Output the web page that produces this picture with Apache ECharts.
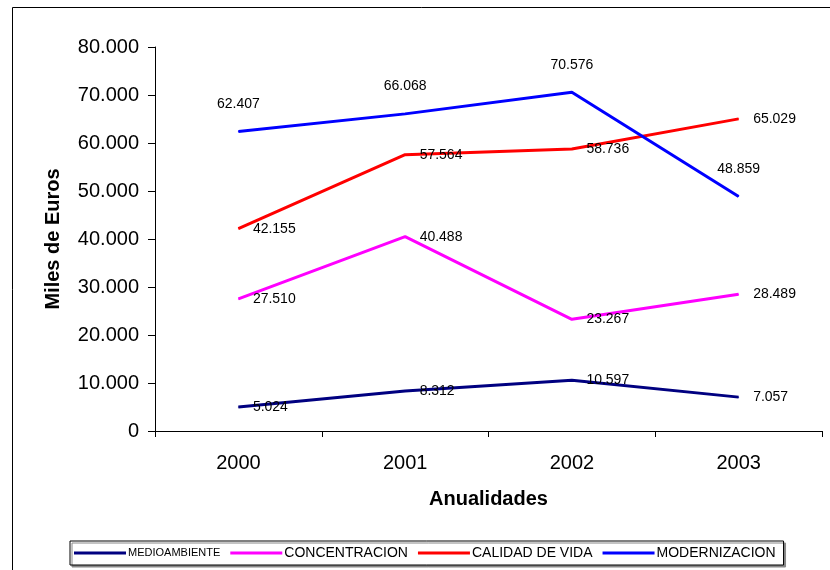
<!DOCTYPE html>
<html>
<head>
<meta charset="utf-8">
<script src="https://cdn.jsdelivr.net/npm/echarts@6/dist/echarts.min.js"></script>
<style>html,body{margin:0;padding:0;background:#fff;}#c{width:830px;height:570px;}</style>
</head>
<body>
<div id="c"></div>
<script>
var categories = ['2000', '2001', '2002', '2003'];
var medioambiente = [5024, 8312, 10597, 7057];
var concentracion = [27510, 40488, 23267, 28489];
var calidadDeVida = [42155, 57564, 58736, 65029];
var modernizacion = [62407, 66068, 70576, 48859];
var yTicks = { min: 0, max: 80000, interval: 10000 };

var FONT = '"Liberation Sans", Arial, sans-serif';
function fmt(v) {
  if (v === 0) return '0';
  return String(v).replace(/\B(?=(\d{3})+(?!\d))/g, '.');
}
function mkSeries(name, data, color, pos) {
  return {
    name: name, type: 'line', data: data,
    symbol: 'circle', symbolSize: 1, showSymbol: true,
    itemStyle: { color: color },
    lineStyle: { color: color, width: 3 },
    label: {
      show: true, position: pos, distance: pos === 'top' ? 20 : 14,
      color: '#000', fontSize: 14, fontFamily: FONT,
      formatter: function (p) { return fmt(p.value); }
    },
    emphasis: { disabled: true },
    animation: false
  };
}
var chart = echarts.init(document.getElementById('c'), null, { renderer: 'canvas' });
chart.setOption({
  animation: false,
  backgroundColor: '#fff',
  graphic: [{
    type: 'rect', shape: { x: 12.5, y: 7.5, width: 900, height: 700 },
    style: { fill: 'none', stroke: '#000', lineWidth: 1 }, silent: true, z: -1
  }],
  grid: { left: 155, right: 8, top: 47, bottom: 139, containLabel: false },
  legend: {
    left: 70, top: 541,
    padding: [5, 8, 5, 4],
    itemGap: 10, itemWidth: 52, itemHeight: 3, icon: 'rect',
    backgroundColor: '#fff', borderColor: '#000', borderWidth: 1,
    shadowColor: '#888', shadowOffsetX: 2, shadowOffsetY: 2, shadowBlur: 0,
    textStyle: { color: '#000', fontSize: 14, fontFamily: FONT, padding: [0, 0, 0, -3],
      rich: { s: { fontSize: 11, fontFamily: FONT, color: '#000' } } },
    formatter: function (n) { return n === 'MEDIOAMBIENTE' ? '{s|' + n + '}' : n; },
    data: ['MEDIOAMBIENTE', 'CONCENTRACION', 'CALIDAD DE VIDA', 'MODERNIZACION']
  },
  xAxis: {
    type: 'category', data: categories, boundaryGap: true,
    name: 'Anualidades', nameLocation: 'middle', nameGap: 58,
    nameTextStyle: { fontSize: 20, fontWeight: 'bold', color: '#000', fontFamily: FONT },
    axisLine: { lineStyle: { color: '#000', width: 1 } },
    axisTick: { show: true, inside: false, length: 6, alignWithLabel: false, lineStyle: { color: '#000' } },
    axisLabel: { fontSize: 20, color: '#000', margin: 22, fontFamily: FONT },
    splitLine: { show: false }
  },
  yAxis: {
    type: 'value', min: yTicks.min, max: yTicks.max, interval: yTicks.interval,
    name: 'Miles de Euros', nameLocation: 'middle', nameGap: 92, nameRotate: 90,
    nameTextStyle: { fontSize: 20, fontWeight: 'bold', color: '#000', fontFamily: FONT },
    axisLine: { show: true, lineStyle: { color: '#000', width: 1 } },
    axisTick: { show: true, inside: false, length: 7, lineStyle: { color: '#000' } },
    axisLabel: { fontSize: 20, color: '#000', margin: 16, fontFamily: FONT, formatter: fmt },
    splitLine: { show: false }
  },
  series: [
    mkSeries('MEDIOAMBIENTE', medioambiente, '#000080', 'right'),
    mkSeries('CONCENTRACION', concentracion, '#FF00FF', 'right'),
    mkSeries('CALIDAD DE VIDA', calidadDeVida, '#FF0000', 'right'),
    mkSeries('MODERNIZACION', modernizacion, '#0000FF', 'top')
  ]
});
</script>
</body>
</html>
